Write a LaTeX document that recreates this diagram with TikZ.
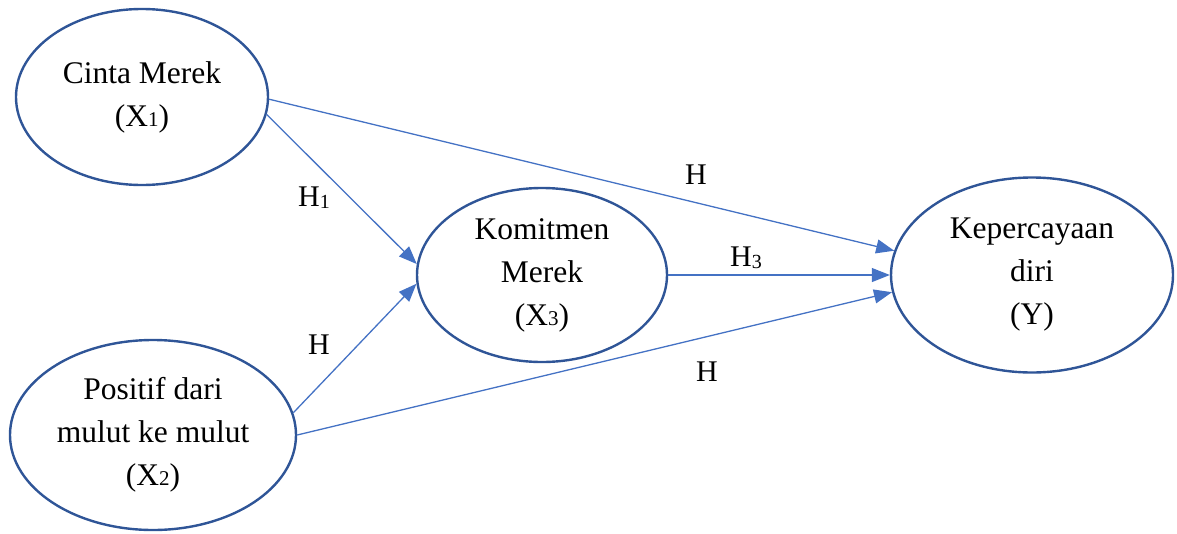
\documentclass[tikz,border=0pt]{standalone}
\usepackage{fontspec}
\setmainfont{Liberation Serif}
\usetikzlibrary{shapes.geometric,arrows.meta}
\definecolor{ellblue}{HTML}{2F5597}
\definecolor{arrblue}{HTML}{4472C4}
\newcommand{\smallsub}[1]{{\fontsize{21}{21}\selectfont #1}}
\newcommand{\lowsub}[1]{\raisebox{-2.5pt}{\fontsize{20}{20}\selectfont #1}}
\tikzset{
  latent/.style={ellipse, draw=ellblue, line width=2.4pt, inner sep=0pt, align=center,
    font=\fontsize{31.5}{43}\selectfont},
  path/.style={draw=arrblue, line width=1.3pt, -{Triangle[length=18pt,width=14pt]}},
  hyp/.style={anchor=base west, inner sep=0pt, font=\fontsize{30}{36}\selectfont}
}
\begin{document}
\begin{tikzpicture}[x=1pt,y=1pt]
\useasboundingbox (0,0) rectangle (1177,-533);
\node[latent, minimum width=252pt, minimum height=176pt] (X1) at (142,-97) {Cinta Merek\\(X\smallsub{1})};
\node[latent, minimum width=286pt, minimum height=190pt] (X2) at (153,-435) {Positif dari\\mulut ke mulut\\(X\smallsub{2})};
\node[latent, minimum width=250pt, minimum height=174pt] (X3) at (542,-275) {Komitmen\\Merek\\(X\smallsub{3})};
\node[latent, minimum width=282pt, minimum height=195pt] (Y) at (1032,-275) {Kepercayaan\\diri\\(Y)};
\draw[path] (X1.-1) -- (Y.170.8);
\draw[path] (X1.-8.6) -- (X3.175.4);
\draw[path] (X2.9) -- (X3.184.6);
\draw[path] (X3.east) -- (Y.west);
\draw[path] (X2.-0.4) -- (Y.187.7);
\node[hyp] (h1) at (298,-206) {H\lowsub{1}};
\node[hyp] (h2) at (308,-354) {H};
\node[hyp] (h4) at (685,-184) {H};
\node[hyp] (h3) at (730,-266) {H\lowsub{3}};
\node[hyp] (h5) at (696,-381) {H};
\end{tikzpicture}
\end{document}
